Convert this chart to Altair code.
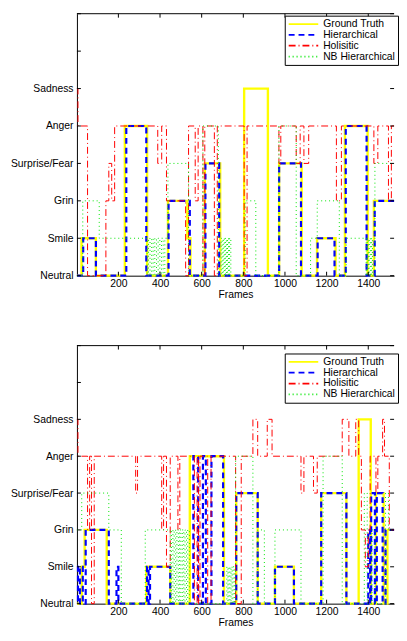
import altair as alt
import pandas as pd

SERIES = ["Ground Truth", "Hierarchical", "Holisitic", "NB Hierarchical"]
COLORS = ["#ffff00", "#0000ff", "#ff0000", "#00e600"]
DASHES = [[1, 0], [6, 4], [7, 3, 1, 3], [1, 3]]
WIDTHS = [2.4, 2.2, 1.0, 1.0]
EMOTIONS = ["Neutral", "Smile", "Grin", "Surprise/Fear", "Anger", "Sadness"]
X_TICKS = [200, 400, 600, 800, 1000, 1200, 1400]
Y_LABELLED = [0, 1, 2, 3, 4, 5]
Y_TICKS = [0, 1, 2, 3, 4, 5, 6, 7]
X_MIN, X_MAX = 1, 1524

# ---------- top panel ----------
top_gt_frames = [1, 23, 92, 231, 338, 438, 531, 546, 615, 689, 804, 918, 972, 1080, 1154, 1243, 1288, 1397, 1427]
top_gt_values = [0, 1, 0, 4, 0, 2, 1, 0, 3, 0, 5, 0, 3, 0, 1, 0, 4, 0, 2]

top_hier_frames = [1, 31, 92, 238, 334, 441, 543, 618, 684, 972, 1077, 1157, 1238, 1292, 1392, 1431]
top_hier_values = [0, 1, 0, 4, 0, 2, 0, 3, 0, 3, 0, 1, 0, 4, 0, 2]

top_hol_frames = [1, 6, 52, 140, 154, 168, 182, 389, 408, 431,
                  523, 537, 569, 583, 606, 615, 661, 675, 804, 818,
                  971, 980, 1054, 1073, 1091, 1114, 1247, 1271, 1427, 1446,
                  1497, 1511]
top_hol_values = [5, 4, 0, 2, 3, 2, 4, 3, 4, 2,
                  0, 4, 2, 4, 0, 4, 0, 4, 0, 4,
                  3, 4, 3, 4, 3, 4, 2, 4, 3, 4,
                  2, 4]

top_nb_frames = [1, 29, 108, 338, 345, 352, 360, 367, 375, 383,
                 391, 399, 407, 415, 423, 438, 537, 606, 680, 694,
                 699, 704, 709, 714, 719, 724, 729, 734, 740, 809,
                 860, 971, 1054, 1123, 1155, 1261, 1294, 1390, 1395, 1400,
                 1405, 1410, 1415, 1420, 1432]
top_nb_values = [0, 2, 1, 0, 1, 0, 1, 0, 1, 0,
                 1, 0, 1, 0, 1, 3, 0, 4, 0, 1,
                 0, 1, 0, 1, 0, 1, 0, 1, 0, 2,
                 0, 4, 0, 1, 2, 0, 1, 0, 1, 0,
                 1, 0, 1, 0, 3]

# ---------- bottom panel ----------
bot_gt_frames = [1, 24, 38, 144, 334, 449, 543, 707, 766, 869, 952, 1043, 1174, 1295, 1354, 1412, 1437, 1474, 1492]
bot_gt_values = [0, 1, 2, 0, 1, 0, 4, 0, 3, 0, 1, 0, 3, 0, 5, 0, 3, 0, 2]

bot_hier_frames = [1, 6, 15, 29, 43, 154, 191, 200, 338, 345,
                   352, 449, 560, 583, 606, 620, 647, 703, 766, 869,
                   952, 1043, 1174, 1295, 1400, 1409, 1414, 1432, 1441, 1469,
                   1483]
bot_hier_values = [1, 0, 1, 0, 2, 0, 1, 0, 1, 0,
                   1, 0, 4, 0, 4, 0, 4, 0, 3, 0,
                   1, 0, 3, 0, 2, 0, 3, 0, 3, 0,
                   2]

bot_hol_frames = [1, 6, 52, 62, 71, 84, 283, 292, 408, 417,
                  431, 449, 486, 495, 565, 578, 585, 592, 629, 645,
                  763, 790, 846, 869, 915, 938, 1077, 1091, 1137, 1155,
                  1275, 1307, 1340, 1354, 1367, 1386, 1400, 1409, 1437, 1446,
                  1469, 1478, 1501]
bot_hol_values = [5, 4, 2, 4, 0, 4, 3, 4, 2, 4,
                  1, 4, 2, 4, 0, 4, 0, 4, 0, 4,
                  0, 4, 5, 4, 5, 4, 3, 4, 3, 4,
                  5, 4, 5, 4, 2, 1, 2, 4, 3, 4,
                  5, 4, 2]

bot_nb_frames = [1, 24, 154, 214, 329, 449, 455, 462, 468, 475,
                 481, 488, 494, 500, 507, 514, 520, 527, 533, 541,
                 721, 726, 731, 736, 741, 746, 751, 757, 763, 846,
                 869, 901, 952, 1077, 1183, 1275, 1381, 1395, 1418, 1432,
                 1483, 1497]
bot_nb_values = [2, 3, 2, 0, 2, 0, 2, 0, 2, 0,
                 2, 0, 2, 0, 2, 0, 2, 0, 2, 0,
                 1, 0, 1, 0, 1, 0, 1, 0, 4, 0,
                 2, 0, 2, 0, 4, 0, 3, 0, 2, 0,
                 3, 2]

PANELS = {
    "top": [(top_gt_frames, top_gt_values), (top_hier_frames, top_hier_values),
            (top_hol_frames, top_hol_values), (top_nb_frames, top_nb_values)],
    "bottom": [(bot_gt_frames, bot_gt_values), (bot_hier_frames, bot_hier_values),
               (bot_hol_frames, bot_hol_values), (bot_nb_frames, bot_nb_values)],
}

rows = []
for panel, lst in PANELS.items():
    for s, (fr, vals) in zip(SERIES, lst):
        assert len(fr) == len(vals), (panel, s)
        for f, v in zip(fr, vals):
            rows.append({"panel": panel, "series": s, "frame": f, "value": v})
        rows.append({"panel": panel, "series": s, "frame": X_MAX, "value": vals[-1]})
df = pd.DataFrame(rows)

FONT = "Liberation Sans"
FS = 10.5
W = 322

xscale = alt.Scale(domain=[X_MIN, X_MAX], nice=False, zero=False)
yscale = alt.Scale(domain=[0, 7], nice=False, zero=True)
label_expr = str(EMOTIONS) + "[datum.value]"

xaxis = alt.Axis(values=X_TICKS, format="d", title="Frames", tickSize=0, labelPadding=3, titlePadding=1,
                 grid=False, domainColor="black", domainWidth=1, labelFont=FONT, labelFontSize=FS,
                 labelColor="black", titleFont=FONT, titleFontSize=FS, titleFontWeight="normal",
                 titleColor="black", labelFlush=False, labelOverlap=False)
yaxis = alt.Axis(values=Y_LABELLED, labelExpr=label_expr, title=None, tickSize=0, labelPadding=4,
                 grid=False, domainColor="black", domainWidth=1, labelFont=FONT, labelFontSize=FS,
                 labelColor="black", labelOverlap=False)


def make_legend(ly):
    return alt.Legend(title=None, orient="none", legendX=211, legendY=ly, symbolType="stroke",
                      symbolSize=900, clipHeight=11, padding=3, rowPadding=-1, labelOffset=4,
                      strokeColor="black", fillColor="white", labelFont=FONT, labelFontSize=FS,
                      labelColor="black", cornerRadius=0, symbolStrokeWidth=1.8)


def make_panel(name, H, ly):
    d = df[df.panel == name]
    legend = make_legend(ly)
    layers = []
    for i, s in enumerate(SERIES):
        layers.append(
            alt.Chart(d).transform_filter(alt.datum.series == s)
            .mark_line(interpolate="step-after", strokeWidth=WIDTHS[i])
            .encode(
                x=alt.X("frame:Q", scale=xscale, axis=xaxis),
                y=alt.Y("value:Q", scale=yscale, axis=yaxis),
                color=alt.Color("series:N", scale=alt.Scale(domain=SERIES, range=COLORS), legend=legend),
                strokeDash=alt.StrokeDash("series:N", scale=alt.Scale(domain=SERIES, range=DASHES), legend=legend),
            )
        )
    yt = pd.DataFrame({"value": Y_TICKS})
    xt = pd.DataFrame({"frame": X_TICKS})
    one = pd.DataFrame({"value": [0]})
    left = alt.Chart(yt).mark_rule(color="black", strokeWidth=1).encode(
        y=alt.Y("value:Q", scale=yscale, axis=yaxis), x=alt.value(0), x2=alt.value(4))
    right = alt.Chart(yt).mark_rule(color="black", strokeWidth=1).encode(
        y=alt.Y("value:Q", scale=yscale, axis=yaxis), x=alt.value(W - 4), x2=alt.value(W))
    top = alt.Chart(xt).mark_rule(color="black", strokeWidth=1).encode(
        x=alt.X("frame:Q", scale=xscale, axis=xaxis), y=alt.value(0), y2=alt.value(4))
    bottom = alt.Chart(xt).mark_rule(color="black", strokeWidth=1).encode(
        x=alt.X("frame:Q", scale=xscale, axis=xaxis), y=alt.value(H - 4), y2=alt.value(H))
    border = alt.Chart(one).mark_rule(color="black", strokeWidth=1).encode(
        x=alt.value(0), x2=alt.value(W), y=alt.value(0))
    return alt.layer(*layers, left, right, top, bottom, border).properties(width=W, height=H)


top_panel = make_panel("top", 266, 2)
bottom_panel = make_panel("bottom", 262, 8)

chart = (
    alt.vconcat(top_panel, bottom_panel, spacing=45)
    .resolve_legend(color="independent", strokeDash="independent")
    .properties(padding={"left": 2, "top": 0, "right": 0, "bottom": 0}, background="white")
    .configure_view(stroke=None)
)

chart.save("out.html", embed_options={"renderer": "svg", "actions": False})
